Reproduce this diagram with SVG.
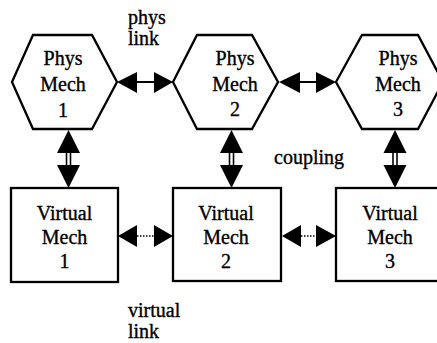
<svg xmlns="http://www.w3.org/2000/svg" width="437" height="343" viewBox="0 0 437 343">
<style>
text{font-family:'Liberation Serif',Tinos,'Times New Roman','DejaVu Serif',serif;font-size:20px;fill:#000;stroke:#000;stroke-width:0.35}
.c{text-anchor:middle}
.shape{fill:#fff;stroke:#000;stroke-width:2.3;stroke-linejoin:miter}
.head{fill:#000;stroke:none}
.solid{stroke:#000;stroke-width:2;fill:none}
.dot{stroke:#000;stroke-width:1.5;stroke-dasharray:1.5 1.5;fill:none}
.dbl{stroke:#000;stroke-width:1.6;fill:none}
</style>
<rect width="437" height="343" fill="#fff"/>
<g id="phys1">
<polygon class="shape" points="12,82 33,35 92,35 117,82 92,129 33,129"/>
<text class="c" x="63" y="65" font-family="Liberation Serif, serif">Phys</text>
<text class="c" x="63" y="91" font-family="Liberation Serif, serif">Mech</text>
<text class="c" x="63" y="117" font-family="Liberation Serif, serif">1</text>
</g>
<g id="phys2">
<polygon class="shape" points="173,82 197,35 252,35 278,82 252,129 197,129"/>
<text class="c" x="235" y="65">Phys</text>
<text class="c" x="235" y="91">Mech</text>
<text class="c" x="235" y="116">2</text>
</g>
<g id="phys3">
<polygon class="shape" points="336,82 362,35 418,35 443,82 418,129 362,129"/>
<text class="c" x="398" y="65">Phys</text>
<text class="c" x="398" y="91">Mech</text>
<text class="c" x="398" y="116">3</text>
</g>
<g id="virt1">
<rect class="shape" x="11" y="188" width="107" height="94"/>
<text class="c" x="64.5" y="220">Virtual</text>
<text class="c" x="64.5" y="244">Mech</text>
<text class="c" x="64.5" y="268">1</text>
</g>
<g id="virt2">
<rect class="shape" x="173" y="188" width="108" height="93"/>
<text class="c" x="226" y="220">Virtual</text>
<text class="c" x="226" y="244">Mech</text>
<text class="c" x="226" y="268">2</text>
</g>
<g id="virt3">
<rect class="shape" x="336" y="188" width="110" height="93"/>
<text class="c" x="390" y="220">Virtual</text>
<text class="c" x="390" y="244">Mech</text>
<text class="c" x="390" y="268">3</text>
</g>
<g id="connectors">
<line class="solid" x1="136" y1="82" x2="155" y2="82"/>
<polygon class="head" points="117,82 137,72 137,93"/>
<polygon class="head" points="173,82 154,72 154,93"/>
<line class="solid" x1="299" y1="82" x2="317" y2="82"/>
<polygon class="head" points="279,82 300,72 300,93"/>
<polygon class="head" points="336,82 316,72 316,93"/>
<line class="dot" x1="137" y1="236" x2="155" y2="236"/>
<polygon class="head" points="118,236 137,225 137,247"/>
<polygon class="head" points="173,236 154,225 154,247"/>
<line class="dot" x1="301" y1="236" x2="317" y2="236"/>
<polygon class="head" points="282,236 301,225 301,247"/>
<polygon class="head" points="336,236 316,225 316,247"/>
<polygon class="head" points="68.5,130 57,153 80,153"/>
<line class="dbl" x1="66.5" y1="152" x2="66.5" y2="166"/>
<line class="dbl" x1="70.5" y1="152" x2="70.5" y2="166"/>
<polygon class="head" points="57,165 80,165 68.5,188"/>
<polygon class="head" points="231.5,130 220,153 243,153"/>
<line class="dbl" x1="229.5" y1="152" x2="229.5" y2="166"/>
<line class="dbl" x1="233.5" y1="152" x2="233.5" y2="166"/>
<polygon class="head" points="220,165 243,165 231.5,188"/>
<polygon class="head" points="395,130 383.5,153 406.5,153"/>
<line class="dbl" x1="393" y1="152" x2="393" y2="166"/>
<line class="dbl" x1="397" y1="152" x2="397" y2="166"/>
<polygon class="head" points="383.5,165 406.5,165 395,188"/>
</g>
<g id="labels">
<text x="128" y="24">phys</text>
<text x="128" y="45">link</text>
<text x="274" y="164">coupling</text>
<text x="128" y="317">virtual</text>
<text x="128" y="338">link</text>
</g>
</svg>
